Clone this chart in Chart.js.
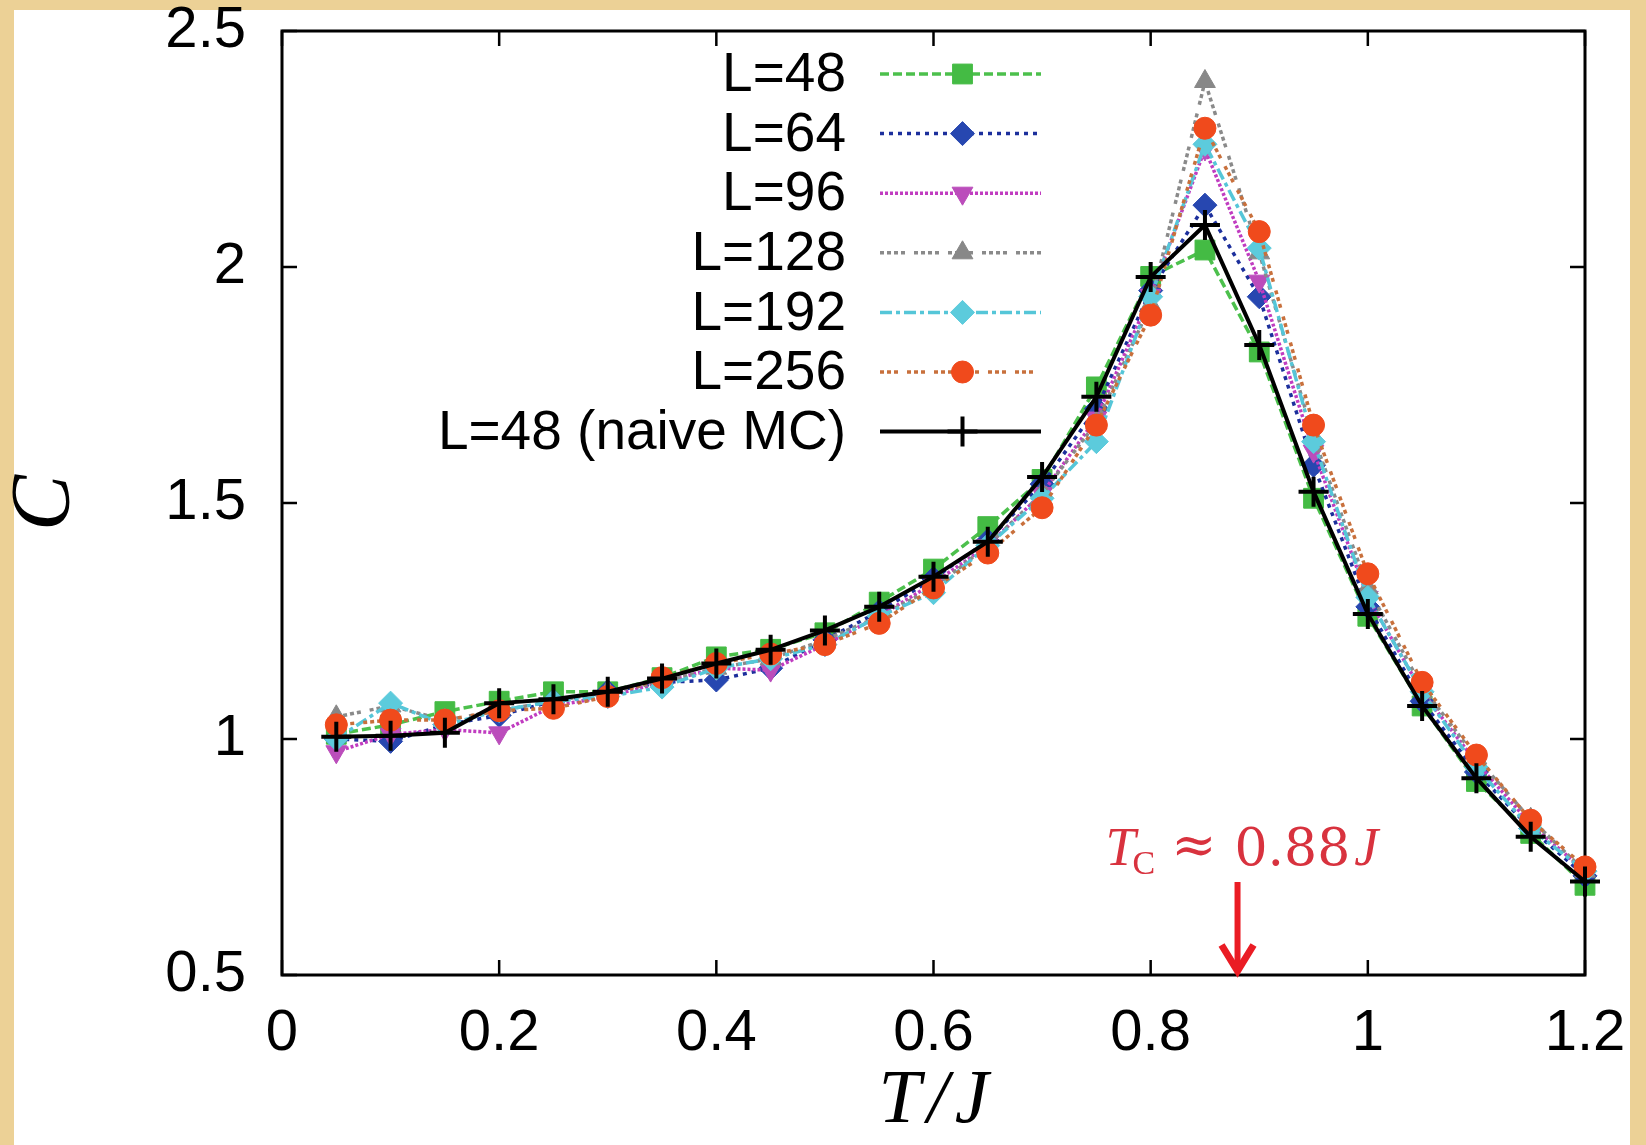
<!DOCTYPE html>
<html>
<head>
<meta charset="utf-8">
<script src="https://cdn.jsdelivr.net/npm/chart.js@4.4.1/dist/chart.umd.min.js"></script>
<style>
  html, body { margin: 0; padding: 0; background: #ecd196; }
  canvas { display: block; }
</style>
</head>
<body>
<canvas id="heat-chart" width="1646" height="1145" style="width:1646px;height:1145px"></canvas>
<script>
// temperatures T/J
const temps = [0.05, 0.10, 0.15, 0.20, 0.25, 0.30, 0.35, 0.40, 0.45, 0.50, 0.55, 0.60,
               0.65, 0.70, 0.75, 0.80, 0.85, 0.90, 0.95, 1.00, 1.05, 1.10, 1.15, 1.20];

// specific heat C for each system size
const cL48  = [1.01, 1.03, 1.058, 1.08, 1.10, 1.10, 1.13, 1.174, 1.19, 1.225, 1.29, 1.36,
               1.45, 1.55, 1.746, 1.98, 2.036, 1.82, 1.51, 1.26, 1.07, 0.91, 0.80, 0.69];
const cL64  = [1.00, 0.995, 1.03, 1.05, 1.08, 1.10, 1.12, 1.125, 1.15, 1.21, 1.27, 1.34,
               1.42, 1.54, 1.70, 1.95, 2.131, 1.937, 1.58, 1.28, 1.08, 0.93, 0.81, 0.71];
const cL96  = [0.973, 1.01, 1.02, 1.013, 1.07, 1.09, 1.12, 1.15, 1.146, 1.20, 1.26, 1.33,
               1.41, 1.52, 1.68, 1.94, 2.25, 1.97, 1.61, 1.30, 1.10, 0.95, 0.82, 0.72];
const cL128 = [1.047, 1.07, 1.04, 1.06, 1.08, 1.10, 1.12, 1.15, 1.17, 1.21, 1.26, 1.32,
               1.41, 1.52, 1.67, 1.92, 2.393, 2.03, 1.64, 1.32, 1.11, 0.96, 0.83, 0.72];
const cL192 = [1.00, 1.076, 1.03, 1.06, 1.08, 1.09, 1.11, 1.15, 1.17, 1.20, 1.26, 1.31,
               1.41, 1.51, 1.63, 1.937, 2.26, 2.04, 1.63, 1.30, 1.10, 0.94, 0.81, 0.72];
const cL256 = [1.03, 1.04, 1.04, 1.06, 1.065, 1.09, 1.13, 1.16, 1.18, 1.20, 1.245, 1.32,
               1.394, 1.49, 1.665, 1.898, 2.294, 2.075, 1.665, 1.35, 1.12, 0.966, 0.828, 0.729];
const cNaive = [1.005, 1.007, 1.013, 1.076, 1.084, 1.10, 1.128, 1.16, 1.189, 1.23, 1.28, 1.344,
                1.418, 1.555, 1.725, 1.979, 2.089, 1.835, 1.524, 1.265, 1.07, 0.917, 0.793, 0.698];

const seriesLabels = ['L=48', 'L=64', 'L=96', 'L=128', 'L=192', 'L=256', 'L=48 (naive MC)'];
const xTicks = [0, 0.2, 0.4, 0.6, 0.8, 1, 1.2];
const yTicks = [0.5, 1, 1.5, 2, 2.5];

// critical temperature marker
const tcValue = 0.88;
const tcArrowTop = 0.697;
const tcTextBase = 0.733;

const toPoints = arr => arr.map((c, i) => ({ x: temps[i], y: c }));

function series(label, data, opts) {
    return Object.assign({
        label: label,
        data: toPoints(data),
        borderWidth: 3.5,
        tension: 0,
        clip: false,
        pointBorderWidth: 1
    }, opts);
}

const datasets = [
    series(seriesLabels[0], cL48, {
        borderColor: '#4cc04c', borderDash: [9, 4],
        pointStyle: 'rect', pointRadius: 14,
        pointBackgroundColor: '#44bb44', pointBorderColor: '#44bb44', order: 6
    }),
    series(seriesLabels[1], cL64, {
        borderColor: '#1c2f9c', borderDash: [4, 5],
        pointStyle: 'rectRot', pointRadius: 12,
        pointBackgroundColor: '#2747b0', pointBorderColor: '#2747b0', order: 5
    }),
    series(seriesLabels[2], cL96, {
        borderColor: '#c03cc0', borderDash: [3, 2],
        pointStyle: 'triangle', pointRotation: 180, pointRadius: 12,
        pointBackgroundColor: '#bb4dbb', pointBorderColor: '#bb4dbb', order: 4
    }),
    series(seriesLabels[3], cL128, {
        borderColor: '#8a8a8a', borderDash: [4, 3, 4, 3, 4, 3, 4, 9],
        pointStyle: 'triangle', pointRadius: 12,
        pointBackgroundColor: '#888888', pointBorderColor: '#888888', order: 3
    }),
    series(seriesLabels[4], cL192, {
        borderColor: '#55c6d8', borderDash: [12, 4, 4, 4],
        pointStyle: 'rectRot', pointRadius: 12,
        pointBackgroundColor: '#5ccbdc', pointBorderColor: '#5ccbdc', order: 2
    }),
    series(seriesLabels[5], cL256, {
        borderColor: '#c8703c', borderDash: [4, 3, 4, 3, 4, 9],
        pointStyle: 'circle', pointRadius: 11,
        pointBackgroundColor: '#f04a1c', pointBorderColor: '#f04a1c', order: 1
    }),
    series(seriesLabels[6], cNaive, {
        borderColor: '#000000', borderWidth: 4,
        pointStyle: 'cross', pointRadius: 15, pointBorderWidth: 4,
        pointBackgroundColor: '#000000', pointBorderColor: '#000000', order: 0
    })
];

// tan paper with the white sheet on top
const paperPlugin = {
    id: 'paper',
    beforeDraw(chart) {
        const ctx = chart.ctx;
        ctx.save();
        ctx.fillStyle = '#ecd196';
        ctx.fillRect(0, 0, chart.width, chart.height);
        ctx.fillStyle = '#ffffff';
        ctx.fillRect(14, 10, 1616, chart.height - 10);
        ctx.restore();
    }
};

// gnuplot-like frame with inward ticks on all four sides
const framePlugin = {
    id: 'frame',
    beforeDatasetsDraw(chart) {
        const { ctx, chartArea: a, scales } = chart;
        const len = 15;
        ctx.save();
        ctx.strokeStyle = '#000';
        ctx.lineWidth = 2.5;
        scales.x.ticks.forEach(t => {
            const px = scales.x.getPixelForValue(t.value);
            ctx.beginPath();
            ctx.moveTo(px, a.bottom); ctx.lineTo(px, a.bottom - len);
            ctx.moveTo(px, a.top); ctx.lineTo(px, a.top + len);
            ctx.stroke();
        });
        scales.y.ticks.forEach(t => {
            const py = scales.y.getPixelForValue(t.value);
            ctx.beginPath();
            ctx.moveTo(a.left, py); ctx.lineTo(a.left + len, py);
            ctx.moveTo(a.right, py); ctx.lineTo(a.right - len, py);
            ctx.stroke();
        });
        ctx.lineWidth = 3;
        ctx.strokeRect(a.left, a.top, a.right - a.left, a.bottom - a.top);
        ctx.restore();
    }
};

// legend: label right aligned, sample line with marker on the right
const keyPlugin = {
    id: 'key',
    afterDraw(chart) {
        const ctx = chart.ctx;
        const textRight = 846, lineL = 880, lineR = 1041, rowTop = 74, rowStep = 59.6;
        ctx.save();
        chart.data.datasets.forEach((ds, i) => {
            const y = rowTop + i * rowStep;
            ctx.font = '55px "Liberation Sans", Arial, sans-serif';
            ctx.fillStyle = '#000';
            ctx.textAlign = 'right';
            ctx.textBaseline = 'middle';
            ctx.fillText(ds.label, textRight, y + 2);

            ctx.strokeStyle = ds.borderColor;
            ctx.lineWidth = ds.borderWidth;
            ctx.setLineDash(ds.borderDash || []);
            ctx.beginPath();
            ctx.moveTo(lineL, y); ctx.lineTo(lineR, y);
            ctx.stroke();
            ctx.setLineDash([]);

            ctx.fillStyle = ds.pointBackgroundColor;
            ctx.strokeStyle = ds.pointBorderColor;
            ctx.lineWidth = ds.pointBorderWidth;
            Chart.helpers.drawPoint(ctx, {
                pointStyle: ds.pointStyle,
                rotation: ds.pointRotation || 0,
                radius: ds.pointRadius,
                borderWidth: ds.pointBorderWidth
            }, (lineL + lineR) / 2 + 2, y);
        });
        ctx.restore();
    }
};

// T_c annotation with red arrow
const tcPlugin = {
    id: 'tc',
    afterDraw(chart) {
        const { ctx, scales } = chart;
        const ax = scales.x.getPixelForValue(tcValue);
        const yTop = scales.y.getPixelForValue(tcArrowTop);
        const yTip = scales.y.getPixelForValue(yTicks[0]);
        const yBase = scales.y.getPixelForValue(tcTextBase);
        ctx.save();
        ctx.strokeStyle = '#ea1c24';
        ctx.lineWidth = 6;
        ctx.beginPath();
        ctx.moveTo(ax, yTop); ctx.lineTo(ax, yTip - 4);
        ctx.stroke();
        ctx.lineWidth = 7;
        ctx.lineJoin = 'miter';
        ctx.beginPath();
        ctx.moveTo(ax - 16, yTip - 30); ctx.lineTo(ax, yTip - 4); ctx.lineTo(ax + 16, yTip - 30);
        ctx.stroke();

        ctx.fillStyle = '#d8323e';
        ctx.textBaseline = 'alphabetic';
        ctx.textAlign = 'left';
        let x = ax - 132;
        ctx.font = 'italic 54px "Liberation Serif", serif';
        ctx.fillText('T', x, yBase);
        x += ctx.measureText('T').width - 3;
        ctx.font = '34px "Liberation Serif", serif';
        ctx.fillText('C', x, yBase + 9);
        x += ctx.measureText('C').width + 16;
        ctx.font = '54px "DejaVu Serif", serif';
        ctx.fillText('\u2248', x, yBase - 2);
        x += ctx.measureText('\u2248').width + 18;
        ctx.font = '52px "DejaVu Serif", serif';
        ctx.fillText('0.88', x, yBase);
        x += ctx.measureText('0.88').width + 4;
        ctx.font = 'italic 54px "Liberation Serif", serif';
        ctx.fillText('J', x, yBase);
        ctx.restore();
    }
};

const ctx = document.getElementById('heat-chart');
new Chart(ctx, {
    type: 'line',
    data: { datasets: datasets },
    plugins: [paperPlugin, framePlugin, keyPlugin, tcPlugin],
    options: {
        responsive: false,
        animation: false,
        devicePixelRatio: 1,
        layout: { padding: { left: 0, top: 31, right: 61, bottom: 0 } },
        plugins: {
            legend: { display: false },
            tooltip: { enabled: false }
        },
        scales: {
            x: {
                type: 'linear',
                min: 0,
                max: 1.2,
                afterFit: scale => {
                    scale.height = 170;
                    scale.paddingLeft = 0;
                    scale.paddingRight = 0;
                },
                afterBuildTicks: scale => { scale.ticks = xTicks.map(v => ({ value: v })); },
                grid: { display: false, drawTicks: false },
                border: { display: false },
                ticks: {
                    padding: 24,
                    color: '#000',
                    font: { family: '"Liberation Sans", Arial, sans-serif', size: 58 },
                    callback: v => String(+v.toFixed(1))
                },
                title: {
                    display: true,
                    text: 'T\u200A/\u200AJ',
                    color: '#000',
                    padding: 5,
                    font: { family: '"Liberation Serif", serif', style: 'italic', size: 76, lineHeight: 1 }
                }
            },
            y: {
                type: 'linear',
                min: 0.5,
                max: 2.5,
                afterFit: scale => {
                    scale.width = 282;
                    scale.paddingTop = 0;
                    scale.paddingBottom = 0;
                },
                afterBuildTicks: scale => { scale.ticks = yTicks.map(v => ({ value: v })); },
                grid: { display: false, drawTicks: false },
                border: { display: false },
                ticks: {
                    padding: 36,
                    color: '#000',
                    font: { family: '"Liberation Sans", Arial, sans-serif', size: 58 },
                    callback: v => String(+v.toFixed(1))
                },
                title: {
                    display: true,
                    text: 'C',
                    color: '#000',
                    padding: 5,
                    font: { family: '"Liberation Serif", serif', style: 'italic', size: 84, lineHeight: 1 }
                }
            }
        }
    }
});
</script>
</body>
</html>
